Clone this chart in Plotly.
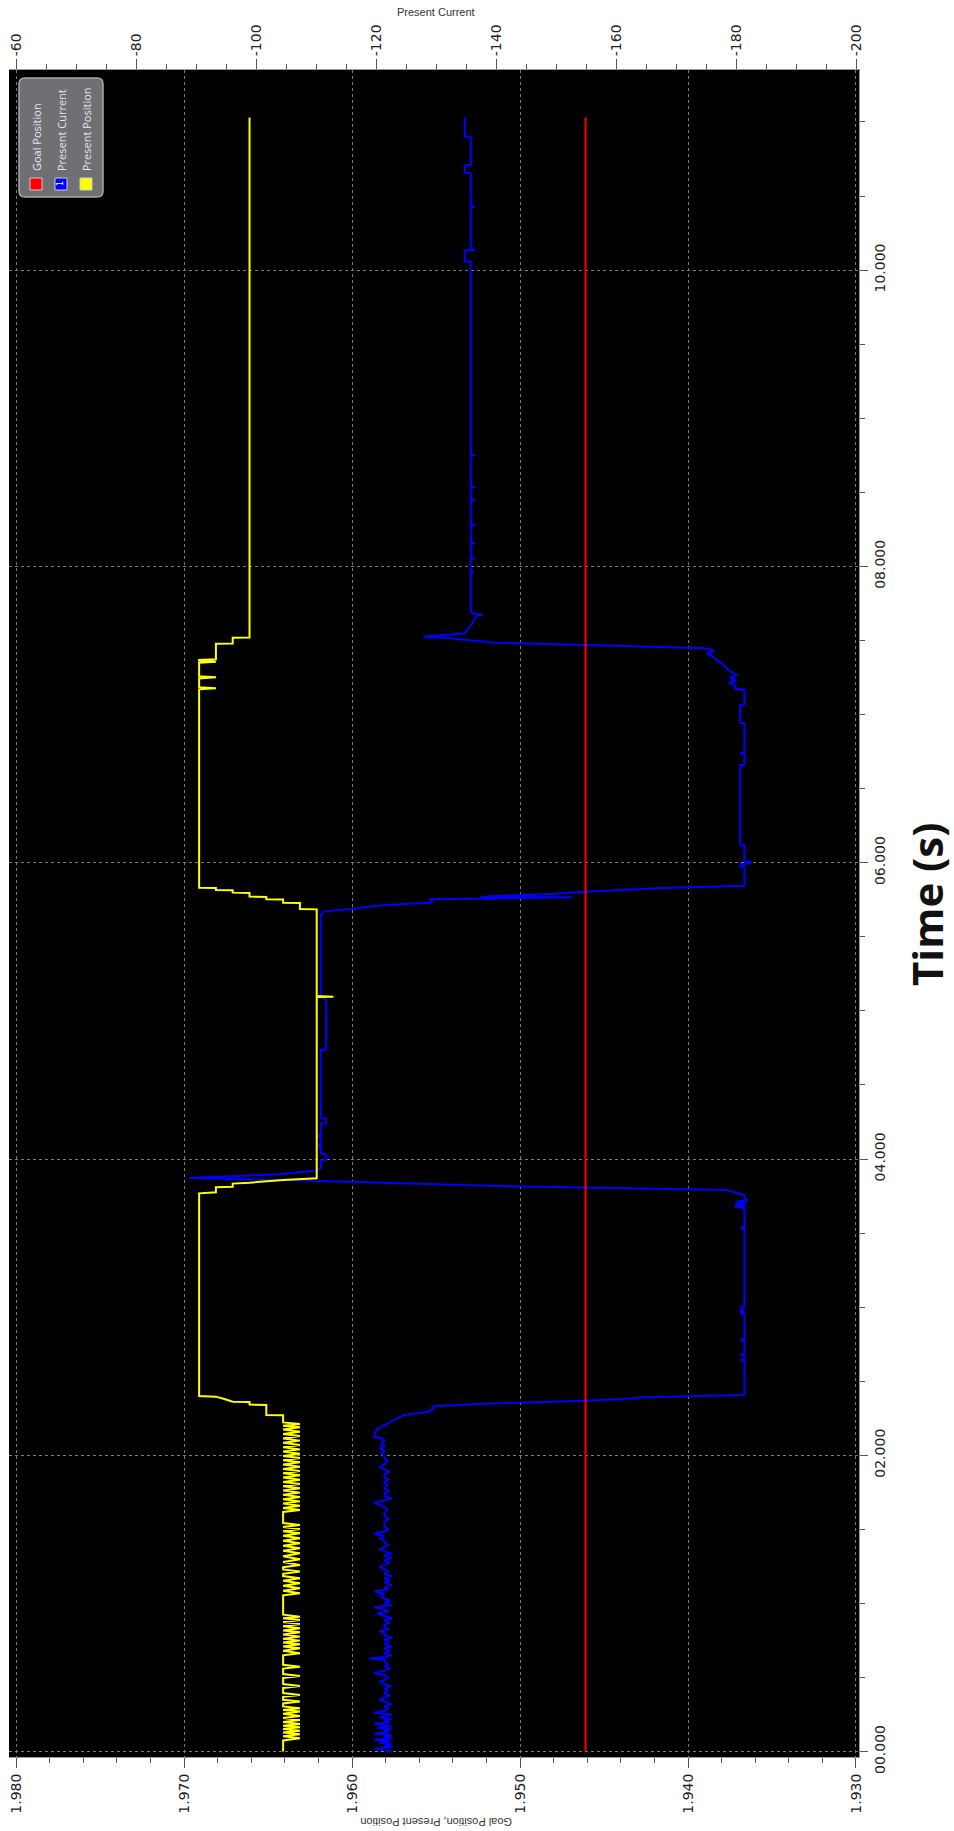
import plotly.graph_objects as go

# ---------------- data ----------------
goal_time = [0.0, 11.03]
goal_position = [1.9461, 1.9461]

# Present Position (time s, position)
position_pts = [
    (0.000, 1.9641), (0.075, 1.9641),
    (0.090, 1.9631), (0.104, 1.9641), (0.117, 1.9631), (0.129, 1.9641), (0.141, 1.9631), (0.152, 1.9641),
    (0.164, 1.9631), (0.175, 1.9641), (0.186, 1.9631), (0.200, 1.9641), (0.213, 1.9631), (0.226, 1.9641),
    (0.240, 1.9631), (0.255, 1.9641), (0.270, 1.9631), (0.281, 1.9641), (0.292, 1.9631), (0.305, 1.9641),
    (0.325, 1.9641), (0.338, 1.9631), (0.350, 1.9641), (0.370, 1.9641), (0.382, 1.9631), (0.395, 1.9641),
    (0.430, 1.9641), (0.443, 1.9631), (0.456, 1.9641), (0.497, 1.9641), (0.510, 1.9631), (0.523, 1.9641),
    (0.560, 1.9641), (0.573, 1.9631), (0.586, 1.9641),
    (0.650, 1.9641), (0.664, 1.9631), (0.680, 1.9641), (0.697, 1.9631), (0.710, 1.9641), (0.724, 1.9631),
    (0.736, 1.9641), (0.749, 1.9631), (0.762, 1.9641), (0.776, 1.9631), (0.790, 1.9641), (0.805, 1.9631),
    (0.818, 1.9641), (0.832, 1.9631), (0.846, 1.9641), (0.861, 1.9631), (0.874, 1.9641), (0.888, 1.9631),
    (0.900, 1.9641), (0.911, 1.9631), (0.924, 1.9641),
    (1.055, 1.9641), (1.069, 1.9631), (1.085, 1.9641), (1.102, 1.9631), (1.119, 1.9641), (1.136, 1.9631),
    (1.153, 1.9641), (1.170, 1.9631), (1.185, 1.9641), (1.200, 1.9641), (1.215, 1.9631), (1.230, 1.9641),
    (1.245, 1.9641), (1.260, 1.9631), (1.279, 1.9641), (1.298, 1.9631), (1.318, 1.9641), (1.339, 1.9631),
    (1.355, 1.9641), (1.372, 1.9631), (1.389, 1.9641), (1.406, 1.9631), (1.423, 1.9641), (1.440, 1.9631),
    (1.457, 1.9641), (1.474, 1.9631), (1.488, 1.9641), (1.503, 1.9631), (1.516, 1.9641), (1.530, 1.9631),
    (1.543, 1.9641),
    (1.618, 1.9641), (1.631, 1.9631), (1.645, 1.9641), (1.660, 1.9631), (1.674, 1.9641), (1.689, 1.9631),
    (1.704, 1.9641), (1.719, 1.9631), (1.733, 1.9641), (1.748, 1.9631), (1.762, 1.9641), (1.777, 1.9631),
    (1.791, 1.9641), (1.806, 1.9631), (1.820, 1.9641), (1.835, 1.9631), (1.850, 1.9641), (1.865, 1.9631),
    (1.879, 1.9641), (1.894, 1.9631), (1.908, 1.9641), (1.923, 1.9631), (1.938, 1.9641), (1.953, 1.9631),
    (1.967, 1.9641), (1.982, 1.9631), (1.996, 1.9641), (2.011, 1.9631), (2.025, 1.9641), (2.040, 1.9631),
    (2.054, 1.9641), (2.069, 1.9631), (2.084, 1.9641), (2.099, 1.9631), (2.114, 1.9641), (2.130, 1.9631),
    (2.144, 1.9641), (2.159, 1.9631), (2.174, 1.9641), (2.189, 1.9631), (2.200, 1.9641), (2.211, 1.9631),
    (2.222, 1.9641),
    (2.270, 1.9641), (2.272, 1.9651), (2.340, 1.9651), (2.342, 1.9661), (2.360, 1.9661), (2.362, 1.9671),
    (2.380, 1.9676), (2.396, 1.9681), (2.400, 1.9691),
    (3.768, 1.9691), (3.775, 1.9681), (3.809, 1.9681), (3.813, 1.9671), (3.834, 1.9671), (3.840, 1.9661),
    (3.858, 1.9641), (3.870, 1.9621),
    (5.094, 1.9621), (5.096, 1.9611), (5.100, 1.9621),
    (5.685, 1.9621), (5.687, 1.9631), (5.728, 1.9631), (5.730, 1.9641), (5.751, 1.9641), (5.753, 1.9651),
    (5.769, 1.9651), (5.771, 1.9661), (5.796, 1.9661), (5.798, 1.9671), (5.814, 1.9671), (5.816, 1.9681),
    (5.829, 1.9681), (5.831, 1.9691),
    (7.170, 1.9691), (7.177, 1.9681), (7.185, 1.9691), (7.244, 1.9691), (7.251, 1.9681), (7.258, 1.9691),
    (7.350, 1.9691), (7.357, 1.9681), (7.364, 1.9691), (7.368, 1.9691), (7.373, 1.9681),
    (7.478, 1.9681), (7.480, 1.9671), (7.518, 1.9671), (7.520, 1.9661),
    (11.03, 1.9661),
]

# Present Current (time s, current)
current_pts = [
    (0.000, -122.6), (0.010, -121.4), (0.020, -119.7), (0.030, -122.6), (0.040, -121.4), (0.050, -122.6),
    (0.060, -120.6), (0.070, -122.3), (0.080, -119.7), (0.090, -122.6), (0.100, -121.4), (0.110, -122.6),
    (0.120, -119.7), (0.130, -122.1), (0.140, -121.4), (0.150, -122.6), (0.160, -120.2), (0.170, -122.6),
    (0.180, -121.4), (0.190, -119.7), (0.200, -122.3), (0.210, -121.4), (0.220, -122.6), (0.230, -120.6),
    (0.240, -121.4), (0.250, -122.6), (0.262, -119.7), (0.275, -121.4), (0.290, -122.1), (0.305, -121.4),
    (0.320, -122.6), (0.335, -121.4), (0.350, -120.6), (0.365, -121.4), (0.380, -122.3), (0.395, -121.4),
    (0.410, -121.9), (0.425, -121.4), (0.440, -122.6), (0.455, -121.4), (0.470, -120.6), (0.485, -121.4),
    (0.500, -122.1), (0.515, -121.4), (0.530, -119.7), (0.545, -121.4), (0.560, -122.3), (0.575, -121.4),
    (0.590, -122.1), (0.605, -121.4), (0.620, -121.4), (0.628, -118.8), (0.636, -121.4), (0.650, -122.6),
    (0.665, -121.4), (0.680, -122.3), (0.695, -121.4), (0.710, -122.6), (0.725, -121.4), (0.740, -122.1),
    (0.755, -121.4), (0.770, -122.6), (0.785, -121.4), (0.800, -121.4), (0.812, -120.6), (0.825, -122.1),
    (0.840, -121.4), (0.855, -121.4), (0.870, -122.3), (0.885, -121.4), (0.900, -122.6), (0.915, -121.4),
    (0.930, -120.2), (0.945, -122.1), (0.960, -121.4), (0.975, -119.7), (0.990, -122.6), (1.005, -121.4),
    (1.020, -122.3), (1.035, -121.4), (1.050, -120.6), (1.065, -121.4), (1.080, -119.7), (1.095, -122.1),
    (1.110, -121.4), (1.125, -122.6), (1.140, -121.4), (1.155, -122.3), (1.170, -121.4), (1.185, -122.6),
    (1.200, -121.4), (1.215, -122.1), (1.230, -121.4), (1.245, -120.6), (1.260, -121.4), (1.275, -122.3),
    (1.290, -121.4), (1.305, -122.6), (1.320, -121.4), (1.335, -122.6), (1.350, -121.4), (1.365, -120.6),
    (1.380, -121.4), (1.395, -122.1), (1.410, -121.4), (1.425, -121.4), (1.440, -120.6), (1.455, -121.4),
    (1.470, -119.7), (1.485, -121.4), (1.500, -122.1), (1.515, -121.4), (1.530, -121.4), (1.550, -121.4),
    (1.570, -122.1), (1.590, -121.4), (1.610, -121.4), (1.630, -121.9), (1.650, -121.4), (1.665, -120.6),
    (1.680, -119.7), (1.695, -121.4), (1.710, -122.6), (1.725, -121.4), (1.740, -121.4), (1.760, -122.1),
    (1.780, -121.4), (1.800, -121.9), (1.820, -121.4), (1.835, -122.1), (1.850, -121.4), (1.870, -121.4),
    (1.890, -122.3), (1.905, -121.4), (1.920, -120.6), (1.940, -121.4), (1.960, -121.9), (1.980, -121.4),
    (1.995, -121.4), (2.010, -120.9), (2.030, -121.4), (2.045, -120.6), (2.060, -121.4), (2.080, -120.9),
    (2.100, -121.4), (2.115, -120.9), (2.126, -119.7), (2.159, -119.9), (2.182, -120.4), (2.204, -121.5),
    (2.238, -122.9), (2.272, -124.7), (2.294, -128.8), (2.317, -129.6), (2.330, -129.3), (2.346, -136.7),
    (2.369, -155.0), (2.385, -163.5), (2.392, -164.5), (2.407, -181.4),
    (2.640, -181.4), (2.643, -180.7), (2.650, -181.4), (2.674, -181.4), (2.677, -180.7), (2.684, -181.4),
    (2.775, -181.4), (2.778, -180.7), (2.785, -181.4), (2.955, -181.4), (2.958, -180.7), (2.965, -181.4),
    (2.975, -180.7), (2.982, -181.4), (3.000, -180.7), (3.007, -181.4), (3.529, -181.4), (3.532, -180.7),
    (3.539, -181.4), (3.670, -181.4), (3.678, -179.8), (3.688, -181.6), (3.696, -179.8), (3.705, -181.6),
    (3.713, -180.2), (3.722, -182.0), (3.735, -181.4), (3.757, -181.4),
    (3.791, -178.4), (3.818, -140.4), (3.847, -115.8), (3.858, -104.6), (3.872, -88.9), (3.897, -103.8),
    (3.922, -110.2),
    (3.940, -110.8), (3.990, -110.8), (3.993, -111.7), (4.030, -111.7), (4.038, -110.8), (4.083, -110.8),
    (4.090, -110.0), (4.094, -110.8), (4.150, -110.8), (4.155, -110.2), (4.160, -110.8), (4.238, -110.8),
    (4.241, -111.7), (4.272, -111.7), (4.275, -110.8), (4.736, -110.8), (4.740, -111.7), (5.085, -111.7),
    (5.090, -110.8), (5.647, -110.8), (5.670, -111.3), (5.685, -115.4), (5.700, -118.0), (5.714, -121.8),
    (5.730, -128.8), (5.745, -129.6), (5.753, -128.8), (5.757, -136.7), (5.766, -152.7), (5.770, -137.5),
    (5.790, -150.0), (5.804, -155.0), (5.827, -166.5), (5.845, -181.4),
    (5.970, -181.4), (5.975, -180.7), (5.990, -180.7), (5.995, -182.5), (6.005, -182.5), (6.010, -181.4),
    (6.119, -181.4), (6.122, -180.7), (6.659, -180.7), (6.662, -181.4), (6.735, -181.4), (6.738, -180.7),
    (6.745, -181.4), (6.941, -181.4), (6.944, -180.7), (7.065, -180.7), (7.068, -181.4), (7.166, -181.4),
    (7.177, -179.8), (7.200, -179.8), (7.215, -178.8), (7.230, -180.0), (7.250, -179.0), (7.265, -180.2),
    (7.279, -179.5), (7.312, -178.4), (7.346, -177.7), (7.370, -176.6), (7.391, -176.2), (7.410, -175.1),
    (7.431, -176.4), (7.447, -174.7), (7.455, -168.8), (7.470, -155.0), (7.485, -139.7), (7.515, -132.2),
    (7.525, -127.9), (7.548, -134.8), (7.616, -136.0), (7.665, -136.7), (7.675, -137.8), (7.683, -136.0),
    (7.700, -135.8), (7.960, -135.8), (7.964, -136.3), (7.970, -135.8), (8.050, -135.8), (8.054, -136.5),
    (8.058, -135.8), (8.152, -135.8), (8.156, -136.5), (8.160, -135.8), (8.275, -135.8), (8.279, -136.5),
    (8.283, -135.8), (8.444, -135.8), (8.448, -136.5), (8.452, -135.8), (8.530, -135.8), (8.534, -136.5),
    (8.538, -135.8), (8.748, -135.8), (8.752, -136.5), (8.756, -135.8), (10.057, -135.8), (10.060, -134.8),
    (10.133, -134.8), (10.136, -136.5), (10.140, -135.8), (10.424, -135.8), (10.428, -136.5),
    (10.432, -135.8), (10.653, -135.8), (10.656, -134.8), (10.706, -134.8), (10.709, -135.8),
    (10.898, -135.8), (10.901, -134.8), (11.031, -134.8),
]

position_ticks = [1.98, 1.97, 1.96, 1.95, 1.94, 1.93]
position_labels = ["1.980", "1.970", "1.960", "1.950", "1.940", "1.930"]
current_ticks = [-60, -80, -100, -120, -140, -160, -180, -200]
current_labels = ["-60", "-80", "-100", "-120", "-140", "-160", "-180", "-200"]
time_ticks = [0, 2, 4, 6, 8, 10]
time_labels = ["00.000", "02.000", "04.000", "06.000", "08.000", "10.000"]

legend_names = ["Goal Position", "Present Current", "Present Position"]
legend_colors = ["#ff0000", "#0000ff", "#ffff00"]

# ---------------- figure ----------------
W, H = 954, 1831
L, R, T, B = 9, 95, 70, 74
PW, PH = W - L - R, H - T - B


def PX(x):
    return (x - L) / PW


def PY(y):
    return (H - B - y) / PH


pos_t, pos_p = zip(*position_pts)
cur_t, cur_c = zip(*current_pts)

fig = go.Figure()
fig.add_trace(go.Scatter(x=list(cur_c), y=list(cur_t), mode="lines", xaxis="x", yaxis="y",
                         line=dict(color="#0000ff", width=2), name="Present Current"))
fig.add_trace(go.Scatter(x=list(pos_p), y=list(pos_t), mode="lines", xaxis="x2", yaxis="y",
                         line=dict(color="#ffff00", width=2), name="Present Position"))
fig.add_trace(go.Scatter(x=goal_position, y=goal_time, mode="lines", xaxis="x2", yaxis="y",
                         line=dict(color="#ff0000", width=2), name="Goal Position"))

tickfont = dict(family="DejaVu Sans", size=14, color="#222222")
grid = dict(showgrid=True, gridcolor="#7a7a7a", griddash="dot", gridwidth=1)

fig.update_layout(
    width=W, height=H,
    margin=dict(l=L, r=R, t=T, b=B, pad=0),
    paper_bgcolor="white", plot_bgcolor="black",
    showlegend=False, hovermode=False,
    xaxis=dict(  # Present Current (top)
        side="top", range=[-58.833, -200.5],
        tickmode="array", tickvals=current_ticks, ticktext=current_labels,
        tickangle=-90, tickfont=tickfont, ticks="outside", ticklen=10, tickcolor="#555",
        minor=dict(tickmode="linear", tick0=-60, dtick=5, ticks="outside", ticklen=5,
                   tickcolor="#555", showgrid=False),
        showgrid=False, zeroline=False, showline=True, linecolor="#999", linewidth=1,
    ),
    xaxis2=dict(  # Goal/Present Position (bottom)
        side="bottom", overlaying="x", anchor="y", range=[1.980417, 1.929821],
        tickmode="array", tickvals=position_ticks, ticktext=position_labels,
        tickangle=-90, tickfont=tickfont, ticks="outside", ticklen=10, tickcolor="#555",
        minor=dict(tickmode="linear", tick0=1.98, dtick=0.002, ticks="outside", ticklen=5,
                   tickcolor="#555", showgrid=False),
        zeroline=False, showline=True, linecolor="#999", linewidth=1, **grid,
    ),
    yaxis=dict(
        side="right", range=[-0.0365, 11.3507],
        tickmode="array", tickvals=time_ticks, ticktext=time_labels,
        tickangle=-90, tickfont=tickfont, ticks="outside", ticklen=8, tickcolor="#555",
        minor=dict(tickmode="linear", tick0=0, dtick=0.5, ticks="outside", ticklen=5,
                   tickcolor="#555", showgrid=False),
        zeroline=False, showline=True, linecolor="#999", linewidth=1, **grid,
    ),
)

annotations = [
    dict(text="Present Current", x=PX(436), y=PY(12), xref="paper", yref="paper",
         showarrow=False, xanchor="center", yanchor="middle",
         font=dict(family="Liberation Sans", size=11, color="#333")),
    dict(text="Goal Position, Present Position", x=PX(436), y=PY(1822), xref="paper", yref="paper",
         showarrow=False, xanchor="center", yanchor="middle", textangle=180,
         font=dict(family="Liberation Sans", size=11, color="#333")),
    dict(text="<b>Time (s)</b>", x=PX(926), y=PY(905), xref="paper", yref="paper",
         showarrow=False, xanchor="center", yanchor="middle", textangle=-90,
         font=dict(family="Open Sans", size=42, color="#111")),
]

# legend box (rounded)
x0, x1, y0, y1, r = 19, 103, 78, 197, 6
path = (f"M {PX(x0 + r)},{PY(y0)} L {PX(x1 - r)},{PY(y0)} Q {PX(x1)},{PY(y0)} {PX(x1)},{PY(y0 + r)} "
        f"L {PX(x1)},{PY(y1 - r)} Q {PX(x1)},{PY(y1)} {PX(x1 - r)},{PY(y1)} "
        f"L {PX(x0 + r)},{PY(y1)} Q {PX(x0)},{PY(y1)} {PX(x0)},{PY(y1 - r)} "
        f"L {PX(x0)},{PY(y0 + r)} Q {PX(x0)},{PY(y0)} {PX(x0 + r)},{PY(y0)} Z")
shapes = [dict(type="path", path=path, xref="paper", yref="paper", layer="above",
               fillcolor="#707074", line=dict(color="#a8a8a8", width=1.5))]

for i, (name, col) in enumerate(zip(legend_names, legend_colors)):
    cx = 36 + 25 * i
    shapes.append(dict(type="rect", xref="paper", yref="paper", layer="above",
                       x0=PX(cx - 6), x1=PX(cx + 6), y0=PY(190), y1=PY(178),
                       fillcolor=col, line=dict(color="#cccccc", width=1)))
    annotations.append(dict(text=name, x=PX(cx), y=PY(173), xref="paper", yref="paper",
                            showarrow=False, xanchor="center", yanchor="bottom", textangle=-90,
                            font=dict(family="Open Sans", size=11, color="#e6e6e6")))
annotations.append(dict(text="1", x=PX(61), y=PY(184), xref="paper", yref="paper",
                        showarrow=False, xanchor="center", yanchor="middle", textangle=-90,
                        font=dict(family="DejaVu Sans", size=8, color="white")))

fig.update_layout(shapes=shapes, annotations=annotations)

fig.write_html("out.html", config={"displayModeBar": False})
